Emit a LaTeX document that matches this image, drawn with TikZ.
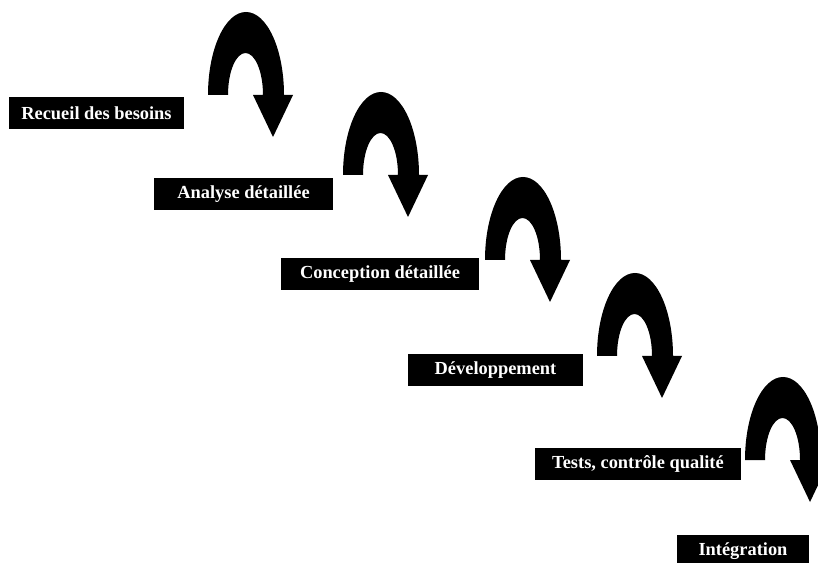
\documentclass[tikz,border=0pt]{standalone}
\usepackage{fontspec}
\setmainfont{Liberation Serif}
\usepackage{tikz}
\usetikzlibrary{positioning, calc}
\newcommand{\drawbend}[1]{
    \fill[shift={(#1)}] (0,0) arc[start angle=180, end angle=0, x radius=38pt, y radius=83pt]
        -- (85,0) -- (65,-42) -- (45,0) -- (55,0)
        arc[start angle=0, end angle=180, x radius=17.5pt, y radius=42pt] -- cycle;
}
\tikzset{
    phase/.style={
        fill=black, text=white, inner sep=0pt, minimum height=32pt,
        font=\fontsize{18.4}{20}\selectfont\bfseries
    }
}

\begin{document}
\begin{tikzpicture}[x=1pt, y=1pt]
    % --- CADRE ---
    \useasboundingbox (0,0) rectangle (818,562);
    \clip (0,0) rectangle (818,562);

    % --- PHASES ---
    \node[phase, minimum width=175pt] (besoins) at (96.5,449) {Recueil des besoins};
    \node[phase, minimum width=179pt] (analyse) at (243.5,367.5) {Analyse détaillée};
    \node[phase, minimum width=198pt] (conception) at (380,288) {Conception détaillée};
    \node[phase, minimum width=175pt] (dev) at (495.5,192) {Développement};
    \node[phase, minimum width=206pt] (tests) at (638,98) {Tests, contrôle qualité};
    \node[phase, minimum width=132pt] (integ) at (743,11) {Intégration};

    % --- FLECHES COURBES ---
    \coordinate (b1) at (208,467);
    \coordinate (b2) at (343,387);
    \coordinate (b3) at (485,302);
    \coordinate (b4) at (597,206);
    \coordinate (b5) at (745,102);
    \drawbend{b1} \drawbend{b2} \drawbend{b3}
    \drawbend{b4} \drawbend{b5}
\end{tikzpicture}
\end{document}
